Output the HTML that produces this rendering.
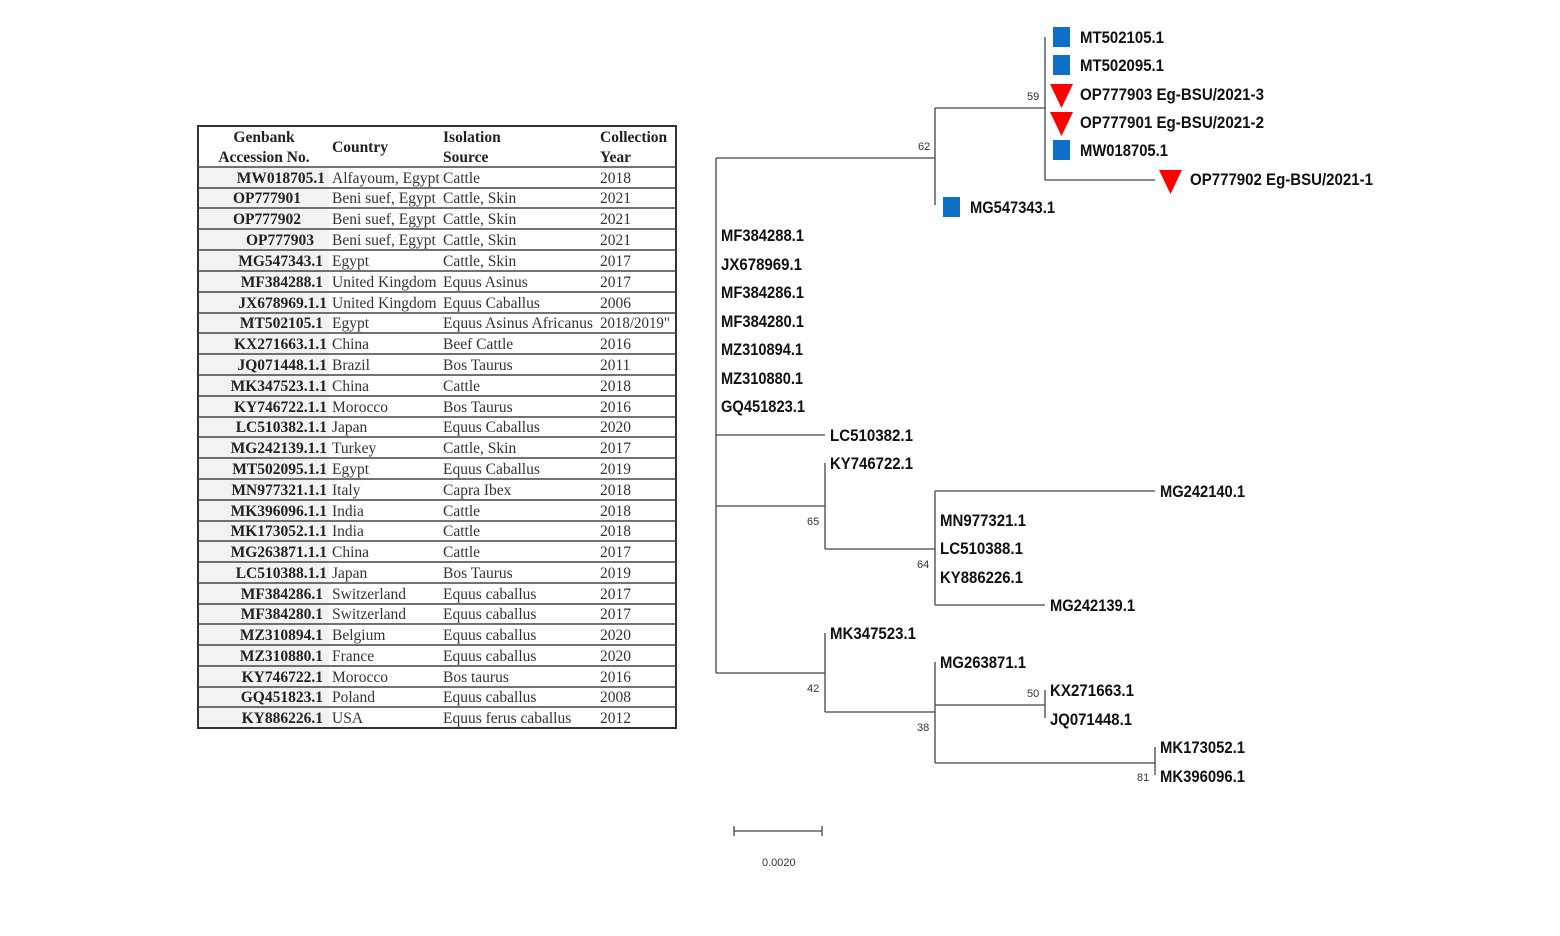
<!DOCTYPE html>
<html><head><meta charset="utf-8"><style>
html,body{margin:0;padding:0;background:#fff;}
svg{display:block}
.t{font-family:"Liberation Serif",serif;font-size:15.5px;fill:#333}
.b{font-weight:bold;fill:#222}
.l{font-family:"Liberation Sans Narrow","Liberation Sans",sans-serif;font-weight:bold;font-size:17px;fill:#111}
.n{font-family:"Liberation Sans Narrow","Liberation Sans",sans-serif;font-size:11px;fill:#333}
</style></head><body>
<svg width="1560" height="936" viewBox="0 0 1560 936" xmlns="http://www.w3.org/2000/svg">
<rect x="198" y="126" width="478" height="602" fill="#fff" stroke="#333" stroke-width="2"/>
<rect x="199" y="168" width="130" height="559" fill="#f2f2f2"/>
<g stroke="#444" stroke-width="1.6">
<line x1="198" y1="167" x2="676" y2="167"/>
<line x1="198" y1="188" x2="676" y2="188"/>
<line x1="198" y1="208" x2="676" y2="208"/>
<line x1="198" y1="229" x2="676" y2="229"/>
<line x1="198" y1="250" x2="676" y2="250"/>
<line x1="198" y1="271" x2="676" y2="271"/>
<line x1="198" y1="292" x2="676" y2="292"/>
<line x1="198" y1="313" x2="676" y2="313"/>
<line x1="198" y1="333" x2="676" y2="333"/>
<line x1="198" y1="354" x2="676" y2="354"/>
<line x1="198" y1="375" x2="676" y2="375"/>
<line x1="198" y1="396" x2="676" y2="396"/>
<line x1="198" y1="417" x2="676" y2="417"/>
<line x1="198" y1="437" x2="676" y2="437"/>
<line x1="198" y1="458" x2="676" y2="458"/>
<line x1="198" y1="479" x2="676" y2="479"/>
<line x1="198" y1="500" x2="676" y2="500"/>
<line x1="198" y1="521" x2="676" y2="521"/>
<line x1="198" y1="541" x2="676" y2="541"/>
<line x1="198" y1="562" x2="676" y2="562"/>
<line x1="198" y1="583" x2="676" y2="583"/>
<line x1="198" y1="604" x2="676" y2="604"/>
<line x1="198" y1="624" x2="676" y2="624"/>
<line x1="198" y1="645" x2="676" y2="645"/>
<line x1="198" y1="666" x2="676" y2="666"/>
<line x1="198" y1="687" x2="676" y2="687"/>
<line x1="198" y1="707" x2="676" y2="707"/>
</g>
<g class="t b">
<text x="264" y="142" text-anchor="middle">Genbank</text>
<text x="264" y="162" text-anchor="middle">Accession No.</text>
<text x="332" y="152">Country</text>
<text x="443" y="142">Isolation</text>
<text x="443" y="162">Source</text>
<text x="600" y="142">Collection</text>
<text x="600" y="162">Year</text>
</g>
<g class="t b" text-anchor="end">
<text x="325" y="183">MW018705.1</text>
<text x="301" y="203">OP777901</text>
<text x="301" y="224">OP777902</text>
<text x="314" y="245">OP777903</text>
<text x="323" y="266">MG547343.1</text>
<text x="323" y="287">MF384288.1</text>
<text x="327" y="308">JX678969.1.1</text>
<text x="323" y="328">MT502105.1</text>
<text x="327" y="349">KX271663.1.1</text>
<text x="327" y="370">JQ071448.1.1</text>
<text x="327" y="391">MK347523.1.1</text>
<text x="327" y="412">KY746722.1.1</text>
<text x="327" y="432">LC510382.1.1</text>
<text x="327" y="453">MG242139.1.1</text>
<text x="327" y="474">MT502095.1.1</text>
<text x="327" y="495">MN977321.1.1</text>
<text x="327" y="516">MK396096.1.1</text>
<text x="327" y="536">MK173052.1.1</text>
<text x="327" y="557">MG263871.1.1</text>
<text x="327" y="578">LC510388.1.1</text>
<text x="323" y="599">MF384286.1</text>
<text x="323" y="619">MF384280.1</text>
<text x="323" y="640">MZ310894.1</text>
<text x="323" y="661">MZ310880.1</text>
<text x="323" y="682">KY746722.1</text>
<text x="323" y="702">GQ451823.1</text>
<text x="323" y="723">KY886226.1</text>
</g>
<g class="t">
<text x="332" y="183">Alfayoum, Egypt</text><text x="443" y="183">Cattle</text><text x="600" y="183">2018</text>
<text x="332" y="203">Beni suef, Egypt</text><text x="443" y="203">Cattle, Skin</text><text x="600" y="203">2021</text>
<text x="332" y="224">Beni suef, Egypt</text><text x="443" y="224">Cattle, Skin</text><text x="600" y="224">2021</text>
<text x="332" y="245">Beni suef, Egypt</text><text x="443" y="245">Cattle, Skin</text><text x="600" y="245">2021</text>
<text x="332" y="266">Egypt</text><text x="443" y="266">Cattle, Skin</text><text x="600" y="266">2017</text>
<text x="332" y="287">United Kingdom</text><text x="443" y="287">Equus Asinus</text><text x="600" y="287">2017</text>
<text x="332" y="308">United Kingdom</text><text x="443" y="308">Equus Caballus</text><text x="600" y="308">2006</text>
<text x="332" y="328">Egypt</text><text x="443" y="328" textLength="150" lengthAdjust="spacingAndGlyphs">Equus Asinus Africanus</text><text x="600" y="328" textLength="70" lengthAdjust="spacingAndGlyphs">2018/2019"</text>
<text x="332" y="349">China</text><text x="443" y="349">Beef Cattle</text><text x="600" y="349">2016</text>
<text x="332" y="370">Brazil</text><text x="443" y="370">Bos Taurus</text><text x="600" y="370">2011</text>
<text x="332" y="391">China</text><text x="443" y="391">Cattle</text><text x="600" y="391">2018</text>
<text x="332" y="412">Morocco</text><text x="443" y="412">Bos Taurus</text><text x="600" y="412">2016</text>
<text x="332" y="432">Japan</text><text x="443" y="432">Equus Caballus</text><text x="600" y="432">2020</text>
<text x="332" y="453">Turkey</text><text x="443" y="453">Cattle, Skin</text><text x="600" y="453">2017</text>
<text x="332" y="474">Egypt</text><text x="443" y="474">Equus Caballus</text><text x="600" y="474">2019</text>
<text x="332" y="495">Italy</text><text x="443" y="495">Capra Ibex</text><text x="600" y="495">2018</text>
<text x="332" y="516">India</text><text x="443" y="516">Cattle</text><text x="600" y="516">2018</text>
<text x="332" y="536">India</text><text x="443" y="536">Cattle</text><text x="600" y="536">2018</text>
<text x="332" y="557">China</text><text x="443" y="557">Cattle</text><text x="600" y="557">2017</text>
<text x="332" y="578">Japan</text><text x="443" y="578">Bos Taurus</text><text x="600" y="578">2019</text>
<text x="332" y="599">Switzerland</text><text x="443" y="599">Equus caballus</text><text x="600" y="599">2017</text>
<text x="332" y="619">Switzerland</text><text x="443" y="619">Equus caballus</text><text x="600" y="619">2017</text>
<text x="332" y="640">Belgium</text><text x="443" y="640">Equus caballus</text><text x="600" y="640">2020</text>
<text x="332" y="661">France</text><text x="443" y="661">Equus caballus</text><text x="600" y="661">2020</text>
<text x="332" y="682">Morocco</text><text x="443" y="682">Bos taurus</text><text x="600" y="682">2016</text>
<text x="332" y="702">Poland</text><text x="443" y="702">Equus caballus</text><text x="600" y="702">2008</text>
<text x="332" y="723">USA</text><text x="443" y="723">Equus ferus caballus</text><text x="600" y="723">2012</text>
</g>

<g stroke="#444" stroke-width="1.3" fill="none">
<path d="M716 158V673"/>
<path d="M716 158H935M935 108V205M935 108H1045M1045 37V180M1045 180H1155"/>
<path d="M716 435H825"/>
<path d="M716 506H825M825 463V549M825 549H935M935 491V605M935 491H1155M935 605H1045"/>
<path d="M716 673H825M825 633V712M825 712H935M935 662V763M935 705H1045M1045 690V718M935 763H1155M1155 747V775"/>
<path d="M734 831H822M734 826V836M822 826V836"/>
</g>
<g fill="#0f6fc6">
<rect x="1053" y="27" width="17" height="20"/>
<rect x="1053" y="55" width="17" height="20"/>
<rect x="1053" y="140" width="17" height="20"/>
<rect x="943" y="197" width="17" height="20"/>
</g>
<g fill="#f00">
<polygon points="1050,84 1073,84 1061.5,108"/>
<polygon points="1050,112 1073,112 1061.5,136"/>
<polygon points="1159,170 1182,170 1170.5,194"/>
</g>
<g class="l">
<text x="1080" y="43" textLength="84" lengthAdjust="spacingAndGlyphs">MT502105.1</text>
<text x="1080" y="71" textLength="84" lengthAdjust="spacingAndGlyphs">MT502095.1</text>
<text x="1080" y="100" textLength="184" lengthAdjust="spacingAndGlyphs">OP777903 Eg-BSU/2021-3</text>
<text x="1080" y="128" textLength="184" lengthAdjust="spacingAndGlyphs">OP777901 Eg-BSU/2021-2</text>
<text x="1080" y="156" textLength="88" lengthAdjust="spacingAndGlyphs">MW018705.1</text>
<text x="1190" y="185" textLength="183" lengthAdjust="spacingAndGlyphs">OP777902 Eg-BSU/2021-1</text>
<text x="970" y="213" textLength="85" lengthAdjust="spacingAndGlyphs">MG547343.1</text>
<text x="721" y="241" textLength="83" lengthAdjust="spacingAndGlyphs">MF384288.1</text>
<text x="721" y="270" textLength="81" lengthAdjust="spacingAndGlyphs">JX678969.1</text>
<text x="721" y="298" textLength="83" lengthAdjust="spacingAndGlyphs">MF384286.1</text>
<text x="721" y="327" textLength="83" lengthAdjust="spacingAndGlyphs">MF384280.1</text>
<text x="721" y="355" textLength="82" lengthAdjust="spacingAndGlyphs">MZ310894.1</text>
<text x="721" y="384" textLength="82" lengthAdjust="spacingAndGlyphs">MZ310880.1</text>
<text x="721" y="412" textLength="84" lengthAdjust="spacingAndGlyphs">GQ451823.1</text>
<text x="830" y="441" textLength="83" lengthAdjust="spacingAndGlyphs">LC510382.1</text>
<text x="830" y="469" textLength="83" lengthAdjust="spacingAndGlyphs">KY746722.1</text>
<text x="1160" y="497" textLength="85" lengthAdjust="spacingAndGlyphs">MG242140.1</text>
<text x="940" y="526" textLength="86" lengthAdjust="spacingAndGlyphs">MN977321.1</text>
<text x="940" y="554" textLength="83" lengthAdjust="spacingAndGlyphs">LC510388.1</text>
<text x="940" y="583" textLength="83" lengthAdjust="spacingAndGlyphs">KY886226.1</text>
<text x="1050" y="611" textLength="85" lengthAdjust="spacingAndGlyphs">MG242139.1</text>
<text x="830" y="639" textLength="86" lengthAdjust="spacingAndGlyphs">MK347523.1</text>
<text x="940" y="668" textLength="86" lengthAdjust="spacingAndGlyphs">MG263871.1</text>
<text x="1050" y="696" textLength="84" lengthAdjust="spacingAndGlyphs">KX271663.1</text>
<text x="1050" y="725" textLength="82" lengthAdjust="spacingAndGlyphs">JQ071448.1</text>
<text x="1160" y="753" textLength="85" lengthAdjust="spacingAndGlyphs">MK173052.1</text>
<text x="1160" y="782" textLength="85" lengthAdjust="spacingAndGlyphs">MK396096.1</text>
</g>
<g class="n">
<text x="1027" y="100">59</text>
<text x="918" y="150">62</text>
<text x="807" y="525">65</text>
<text x="917" y="568">64</text>
<text x="807" y="692">42</text>
<text x="917" y="731">38</text>
<text x="1027" y="697">50</text>
<text x="1137" y="781">81</text>
<text x="762" y="866">0.0020</text>
</g>
</svg>
</body></html>
